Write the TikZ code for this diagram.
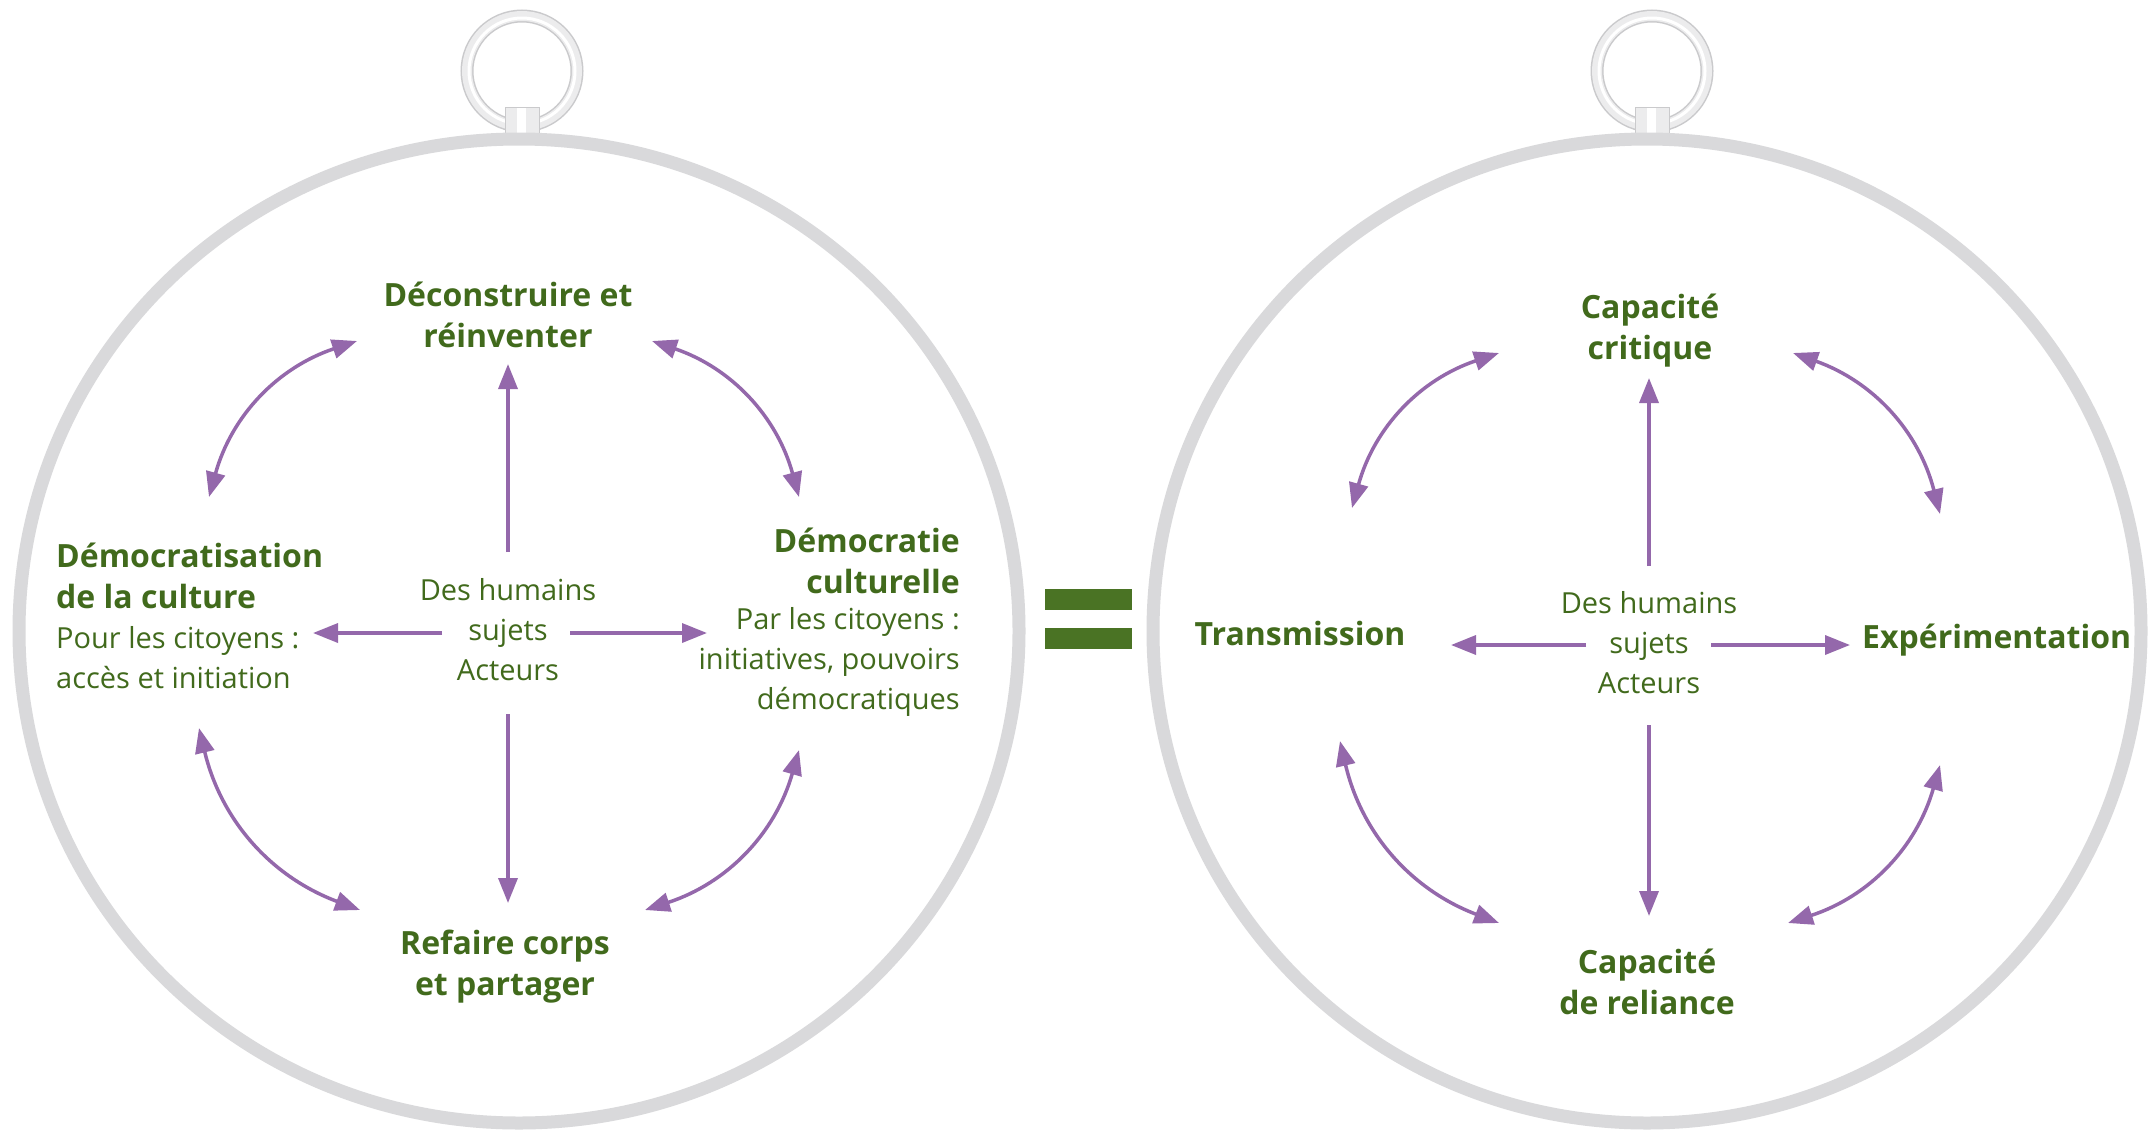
\documentclass[tikz,border=0pt]{standalone}
\usepackage{fontspec}
\setmainfont{Open Sans}
\usetikzlibrary{arrows.meta}
\definecolor{ggreen}{HTML}{416A1C}
\definecolor{eqgreen}{HTML}{4A7324}
\definecolor{purp}{HTML}{9468AB}
\definecolor{rimgray}{HTML}{D9D9DB}
\definecolor{ringdark}{HTML}{CACACC}
\definecolor{ringlight}{HTML}{ECECED}
\begin{document}
\begin{tikzpicture}[x=1pt,y=-1pt,
  link/.style={draw=purp, line width=3.5pt, -{Triangle[length=25pt,width=19pt]}},
  dlink/.style={draw=purp, line width=3.5pt, {Triangle[length=25pt,width=19pt]}-{Triangle[length=25pt,width=19pt]}},
  head/.style={text=ggreen, font=\fontsize{32}{41}\selectfont\bfseries, align=center, inner sep=0pt},
  body/.style={text=ggreen, font=\fontsize{29}{40}\selectfont, align=center, inner sep=0pt},
  rim/.style={draw=rimgray, line width=13pt},
  eqbar/.style={fill=eqgreen, draw=none},
]
\useasboundingbox (0,0) rectangle (2153,1138);
\fill[white] (0,0) rectangle (2153,1138);

% ---------- hanging rings ----------
\foreach \cx/\nm in {522/ringL, 1652/ringR}{
  \draw[ringdark, line width=13pt] (\cx,71) circle[radius=55];
  \draw[ringlight, line width=10pt] (\cx,71) circle[radius=55];
  \draw[white, line width=3pt] (\cx,71) circle[radius=53];
  \filldraw[fill=ringlight, draw=ringdark, line width=1pt] (\cx-17,107) rectangle (\cx+17,136);
  \fill[white] (\cx-5,108) rectangle (\cx+4,135);
}

% ---------- medallions ----------
\draw[rim] (519,631) ellipse[x radius=500, y radius=492];
\draw[rim] (1647,631) ellipse[x radius=494, y radius=492];

% ---------- equals sign ----------
\fill[eqbar] (1045,589) rectangle (1132,610);
\fill[eqbar] (1045,628) rectangle (1132,649);

% ================= LEFT =================
\node[head] (Ltop) at (508,315) {Déconstruire et\\réinventer};
\node[body] (Lc) at (508,630) {Des humains\\sujets\\Acteurs};
\node[head, align=left, anchor=west] (Lleft) at (56,576) {Démocratisation\\de la culture};
\node[body, align=left, anchor=west] (Lleftb) at (56,658) {Pour les citoyens :\\accès et initiation};
\node[head, align=right, anchor=east] (Lright) at (960,561) {Démocratie\\culturelle};
\node[body, align=right, anchor=east] (Lrightb) at (960,662) {Par les citoyens :\\initiatives, pouvoirs\\démocratiques};
\node[head] (Lbot) at (505,967) {Refaire corps\\et partager};

\coordinate (Lu0) at (508,552); \coordinate (Lu1) at (508,364);
\coordinate (Ld0) at (508,714); \coordinate (Ld1) at (508,903);
\coordinate (Ll0) at (442,633); \coordinate (Ll1) at (313,633);
\coordinate (Lr0) at (570,633); \coordinate (Lr1) at (707,633);
\draw[link] (Lu0) -- (Lu1);
\draw[link] (Ld0) -- (Ld1);
\draw[link] (Ll0) -- (Ll1);
\draw[link] (Lr0) -- (Lr1);

\coordinate (LTLa) at (357,341); \coordinate (LTLb) at (209,497);
\coordinate (LTRa) at (652,341); \coordinate (LTRb) at (799,497);
\coordinate (LBLa) at (199,728); \coordinate (LBLb) at (360,910);
\coordinate (LBRa) at (799,750); \coordinate (LBRb) at (645,910);
\draw[dlink] (LTLa) to[bend right=28] (LTLb);
\draw[dlink] (LTRa) to[bend left=28] (LTRb);
\draw[dlink] (LBLa) to[bend right=28] (LBLb);
\draw[dlink] (LBRa) to[bend left=28] (LBRb);

% ================= RIGHT =================
\node[head] (Rtop) at (1650,331) {Capacité\\critique};
\node[body] (Rc) at (1649,643) {Des humains\\sujets\\Acteurs};
\node[head, anchor=west] (Rright) at (1862,640) {Expérimentation};
\node[head] (Rleft) at (1300,633) {Transmission};
\node[head] (Rbot) at (1647,982) {Capacité\\de reliance};

\coordinate (Ru0) at (1649,566); \coordinate (Ru1) at (1649,378);
\coordinate (Rd0) at (1649,725); \coordinate (Rd1) at (1649,916);
\coordinate (Rl0) at (1586,645); \coordinate (Rl1) at (1451,645);
\coordinate (Rr0) at (1711,645); \coordinate (Rr1) at (1850,645);
\draw[link] (Ru0) -- (Ru1);
\draw[link] (Rd0) -- (Rd1);
\draw[link] (Rl0) -- (Rl1);
\draw[link] (Rr0) -- (Rr1);

\coordinate (RTLa) at (1499,353); \coordinate (RTLb) at (1352,508);
\coordinate (RTRa) at (1793,353); \coordinate (RTRb) at (1940,514);
\coordinate (RBLa) at (1340,741); \coordinate (RBLb) at (1499,923);
\coordinate (RBRa) at (1940,765); \coordinate (RBRb) at (1788,923);
\draw[dlink] (RTLa) to[bend right=28] (RTLb);
\draw[dlink] (RTRa) to[bend left=28] (RTRb);
\draw[dlink] (RBLa) to[bend right=28] (RBLb);
\draw[dlink] (RBRa) to[bend left=28] (RBRb);
\end{tikzpicture}
\end{document}
